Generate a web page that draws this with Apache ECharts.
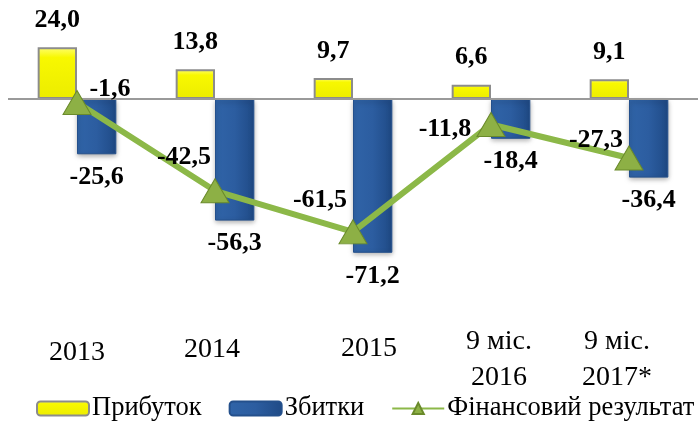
<!DOCTYPE html>
<html>
<head>
<meta charset="utf-8">
<script src="https://cdn.jsdelivr.net/npm/echarts@6/dist/echarts.min.js"></script>
<style>
html,body{margin:0;padding:0;background:#fff}
#divChart{width:698px;height:428px}
</style>
</head>
<body>
<div id="divChart"></div>
<script>
var categories = ['2013','2014','2015','9 міс.\n2016','9 міс.\n2017*']
var profit = [24.0, 13.8, 9.7, 6.6, 9.1]
var losses = [-25.6, -56.3, -71.2, -18.4, -36.4]
var result = [-1.6, -42.5, -61.5, -11.8, -27.3]
var names = ['Прибуток','Збитки','Фінансовий результат']

//label offsets for line points (moved round the triangles like in the source)
var res_off = [[33,-13],[-31,-34],[-33,-32],[-46,5],[-33,-18]]
//x label tweaks [top,right,bottom,left]
var cat_pad = [[11,0,0,0],[8,6,0,0],[7,0,0,32],[0,0,0,16],[0,0,0,-24]]

var serif = '"Times New Roman","Liberation Serif",serif'
var fmt = v=>(''+v.toFixed(1)).replace('.',',')
var lblBase = {show:true,fontFamily:serif,fontWeight:'bold',fontSize:26,color:'#000',formatter:p=>fmt(p.value)}

var yel = {type:'linear',x:0,y:0,x2:0,y2:1,colorStops:[{offset:0,color:'#ffff70'},{offset:0.2,color:'#f8f800'},{offset:1,color:'#ecec00'}]}
var blu = {type:'linear',x:0,y:0,x2:1,y2:0,colorStops:[{offset:0,color:'#3064a8'},{offset:0.5,color:'#2c5da0'},{offset:1,color:'#1f4a86'}]}

var chart = echarts.init(document.getElementById('divChart'))
chart.setOption({
  animation:false,
  grid:{left:8,right:-9,top:12.6,bottom:113},
  legend:{
    bottom:1,left:31,width:800,itemGap:27,itemWidth:52,itemHeight:14,
    textStyle:{fontFamily:serif,fontSize:26.5,color:'#000',padding:[0,0,0,-2]},
    data:names
  },
  xAxis:{
    type:'category',
    data:categories.map((c,i)=>({value:c,textStyle:{padding:cat_pad[i]}})),
    axisLine:{show:false},axisTick:{show:false},
    axisLabel:{interval:0,margin:9,fontFamily:serif,fontSize:28,color:'#000',lineHeight:36}
  },
  yAxis:{type:'value',min:-100,max:40,show:false,splitLine:{show:false}},
  series:[
    {
      name:names[0],type:'bar',data:profit,barGap:'0%',barCategoryGap:'43%',
      itemStyle:{color:yel,borderColor:'#8c8c8c',borderWidth:2},
      label:Object.assign({},lblBase,{position:'top',distance:14}),
      markLine:{silent:true,symbol:'none',label:{show:false},lineStyle:{color:'#9a9a9a',width:2,type:'solid'},data:[{yAxis:0}]},
      z:2
    },
    {
      name:names[1],type:'bar',data:losses,
      itemStyle:{color:blu,borderColor:'#24508c',borderWidth:1,shadowColor:'rgba(0,0,0,0.35)',shadowBlur:5,shadowOffsetY:2},
      label:Object.assign({},lblBase,{position:'bottom',distance:10}),
      z:2
    },
    {
      name:names[2],type:'line',
      data:result.map((v,i)=>({value:v,label:{offset:res_off[i]}})),
      lineStyle:{color:'#8cb848',width:6},
      symbol:'triangle',symbolSize:[28,24],
      itemStyle:{color:'#8db045',borderColor:'#6a8a2b',borderWidth:1},
      label:Object.assign({},lblBase,{position:'inside'}),
      z:5
    }
  ]
})
</script>
</body>
</html>
